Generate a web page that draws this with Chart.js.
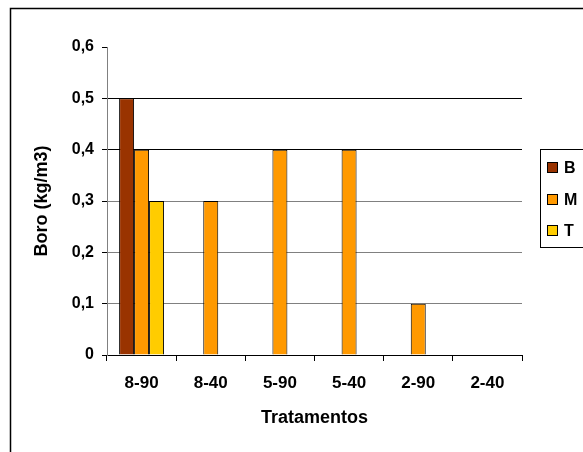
<!DOCTYPE html>
<html>
<head>
<meta charset="utf-8">
<script src="https://cdn.jsdelivr.net/npm/chart.js@4.4.0/dist/chart.umd.min.js"></script>
<style>
  html, body { margin: 0; padding: 0; background: #fff; }
  #wrap { width: 583px; height: 452px; }
</style>
</head>
<body>
<div id="wrap"><canvas id="chart" width="583" height="452"></canvas></div>
<script>
const categories = ['8-90', '8-40', '5-90', '5-40', '2-90', '2-40'];
const seriesB = [0.5, null, null, null, null, null];
const seriesM = [0.4, 0.3, 0.4, 0.4, 0.1, null];
const seriesT = [0.3, null, null, null, null, null];
const yTickLabels = ['0', '0,1', '0,2', '0,3', '0,4', '0,5', '0,6'];

const FONT = 'Liberation Sans, Arial, sans-serif';

// moldura externa + legenda com caixa (como no Excel)
const frameLegend = {
    id: 'frameLegend',
    afterDraw(chart) {
        const ctx = chart.ctx;
        ctx.save();
        ctx.strokeStyle = '#000';
        ctx.lineWidth = 1.5;
        ctx.strokeRect(10.5, 8.5, 700, 700);

        ctx.lineWidth = 1;
        ctx.strokeRect(540.5, 149.5, 100, 98);
        const ys = [168, 200, 231];
        chart.data.datasets.forEach((ds, i) => {
            ctx.fillStyle = ds.backgroundColor;
            ctx.fillRect(547, ys[i] - 5, 10, 10);
            ctx.strokeStyle = '#000';
            ctx.strokeRect(547.5, ys[i] - 5.5, 10, 10);
            ctx.fillStyle = '#000';
            ctx.font = 'bold 16px ' + FONT;
            ctx.textBaseline = 'middle';
            ctx.fillText(ds.label, 564, ys[i] + 1);
        });
        ctx.restore();
    }
};

function renderChart() {
    const ctx = document.getElementById('chart').getContext('2d');
    new Chart(ctx, {
        type: 'bar',
        data: {
            labels: categories,
            datasets: [
                { label: 'B', data: seriesB, backgroundColor: '#993300', borderColor: '#000', borderWidth: 1 },
                { label: 'M', data: seriesM, backgroundColor: '#FF9900', borderColor: '#000', borderWidth: 1 },
                { label: 'T', data: seriesT, backgroundColor: '#FFCC00', borderColor: '#000', borderWidth: 1 }
            ]
        },
        options: {
            responsive: false,
            animation: false,
            layout: { padding: { left: 10, right: 61, top: 47, bottom: 0 } },
            datasets: {
                bar: { categoryPercentage: 0.65, barPercentage: 1 }
            },
            plugins: {
                legend: { display: false },
                tooltip: { enabled: false }
            },
            scales: {
                x: {
                    afterFit: (scale) => { scale.height = 97; },
                    grid: {
                        offset: true,
                        drawOnChartArea: false,
                        drawTicks: true,
                        tickLength: 6,
                        tickColor: '#000'
                    },
                    border: { color: '#000', width: 1 },
                    ticks: {
                        color: '#000',
                        padding: 12,
                        font: { family: FONT, size: 17, weight: 'bold' }
                    },
                    title: {
                        display: true,
                        text: 'Tratamentos',
                        color: '#000',
                        padding: { top: 0, bottom: 23 },
                        font: { family: FONT, size: 18, weight: 'bold' }
                    }
                },
                y: {
                    min: 0,
                    max: 0.6,
                    afterFit: (scale) => { scale.width = 97; },
                    grid: {
                        color: (c) => {
                            const v = Math.round(c.tick.value * 10);
                            if (v === 0 || v === 6) return 'rgba(0,0,0,0)';
                            return v >= 4 ? '#000' : '#808080';
                        },
                        tickColor: '#000',
                        tickLength: 5,
                        lineWidth: 1
                    },
                    border: { color: '#808080', width: 1 },
                    ticks: {
                        stepSize: 0.1,
                        color: '#000',
                        padding: 8,
                        font: { family: FONT, size: 16, weight: 'bold' },
                        callback: (value, index) => yTickLabels[index]
                    },
                    title: {
                        display: true,
                        text: 'Boro (kg/m3)',
                        color: '#000',
                        padding: { top: 21, bottom: 0 },
                        font: { family: FONT, size: 18, weight: 'bold' }
                    }
                }
            }
        },
        plugins: [frameLegend]
    });
}

document.addEventListener('DOMContentLoaded', renderChart);
</script>
</body>
</html>
